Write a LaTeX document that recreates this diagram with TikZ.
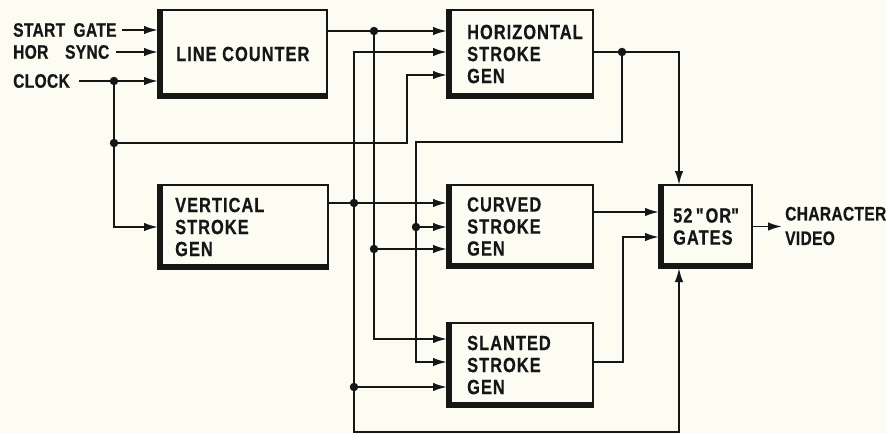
\documentclass[tikz,border=0pt]{standalone}
\usepackage{fontspec}
\setmainfont{Liberation Sans}
\newfontfamily\boxfont{Liberation Sans}[FakeStretch=0.8, LetterSpace=5, FakeBold=0.5]
\newfontfamily\labfont{Liberation Sans}[FakeStretch=0.8, LetterSpace=1.5, WordSpace=1.8, FakeBold=0.5]
\usetikzlibrary{arrows.meta}
\definecolor{paper}{RGB}{252,252,243}
\definecolor{ink}{RGB}{22,22,22}
\tikzset{
  wire/.style={draw=ink, line width=1.9pt},
  arr/.style={wire, -{Latex[length=14pt,width=8.5pt]}},
  blk/.style={draw=ink, line width=1.9pt, fill=paper, anchor=north west, inner sep=0pt, outer sep=0pt},
  thickedge/.style={draw=ink, line width=6pt},
  txt/.style={font=\boxfont\fontsize{20.5}{22}\selectfont\bfseries, align=left, inner sep=0pt, anchor=west, text=ink},
  lbl/.style={font=\labfont\fontsize{19.5}{24.5}\selectfont\bfseries, align=left, inner sep=0pt, anchor=west, text=ink},
  dot/.style={circle, fill=ink, inner sep=0pt, minimum size=8.5pt}
}
\begin{document}
\begin{tikzpicture}[x=1pt,y=-1pt]
\fill[paper] (0,0) rectangle (886,434);
\useasboundingbox (0,0) rectangle (886,434);

% boxes
\node[blk, minimum width=169pt, minimum height=88pt] (lc)  at (158,10) {};
\node[blk, minimum width=146pt, minimum height=88pt] (hsg) at (447,10) {};
\node[blk, minimum width=170pt, minimum height=84pt] (vsg) at (158,185) {};
\node[blk, minimum width=146pt, minimum height=83pt] (csg) at (447,185) {};
\node[blk, minimum width=146pt, minimum height=84pt] (ssg) at (447,323) {};
\node[blk, minimum width=93pt,  minimum height=83pt] (or)  at (659,185) {};
\foreach \b in {lc,hsg,vsg,csg,ssg,or}
  \draw[thickedge] ([xshift=2pt]\b.north west) -- ([xshift=2pt,yshift=2pt]\b.south west) -- ([yshift=2pt]\b.south east);

% box texts
\node[txt] (lct)  at ([xshift=18pt]lc.west)  {LINE COUNTER};
\node[txt] (hsgt) at ([xshift=20pt]hsg.west) {HORIZONTAL\\STROKE\\GEN};
\node[txt] (vsgt) at ([xshift=17pt]vsg.west) {VERTICAL\\STROKE\\GEN};
\node[txt] (csgt) at ([xshift=20pt]csg.west) {CURVED\\STROKE\\GEN};
\node[txt] (ssgt) at ([xshift=20pt]ssg.west) {SLANTED\\STROKE\\GEN};
\node[txt] (ort)  at ([xshift=14pt]or.west)  {52\,\textquotedbl OR\textquotedbl\\GATES};

% input labels
\node[lbl] (sg)  at (13,30) {START GATE};
\node[lbl] (hs)  at (13,52) {HOR\ \ SYNC};
\node[lbl] (clk) at (13,81) {CLOCK};
\node[lbl] (cv)  at (785,226) {CHARACTER\\VIDEO};

% coordinates
\coordinate (j1) at (114,81);
\coordinate (j2) at (114,143);
\coordinate (k1) at (407,143);
\coordinate (k1t) at (407,75);
\coordinate (jB) at (374,31);
\coordinate (jB2) at (374,249);
\coordinate (kB) at (374,339);
\coordinate (jA) at (354,203);
\coordinate (kA) at (354,52);
\coordinate (jA2) at (354,387);
\coordinate (kA2) at (354,432);
\coordinate (kA3) at (679,432);
\coordinate (jC) at (622,52);
\coordinate (kC0) at (679,52);
\coordinate (kC1) at (622,142);
\coordinate (kC2) at (416,142);
\coordinate (kC3) at (416,362);
\coordinate (jC2) at (416,227);
\coordinate (cso) at ([yshift=14.5pt]csg.east);
\coordinate (kS) at (623,362);
\coordinate (kS2) at (623,237);
\coordinate (ortip) at ([xshift=-3pt]cv.west);

% connectors
\draw[arr] ([xshift=5pt]sg.east) -- (sg.east -| lc.west);
\draw[arr] ([xshift=6pt]hs.east) -- (hs.east -| lc.west);
\draw[arr] ([xshift=9pt]clk.east) -- (clk.east -| lc.west);
\draw[arr] (j1) |- (vsg.west);
\draw[arr] (j2) -- (k1) -- (k1t) -- (k1t -| hsg.west);

\draw[arr] (lc.east |- jB) -- (jB -| hsg.west);
\draw[arr] (jB) -- (kB) -- (kB -| ssg.west);
\draw[arr] (jB2) -- (jB2 -| csg.west);

\draw[arr] (vsg.east |- jA) -- (jA -| csg.west);
\draw[arr] (jA) -- (kA) -- (kA -| hsg.west);
\draw[arr] (jA) -- (kA2) -- (kA3) -- (kA3 |- or.south);
\draw[arr] (jA2) -- (jA2 -| ssg.west);

\draw[arr] (hsg.east |- jC) -- (kC0) -- (kC0 |- or.north);
\draw[arr] (jC) -- (kC1) -- (kC2) -- (kC3) -- (kC3 -| ssg.west);
\draw[arr] (jC2) -- (jC2 -| csg.west);

\draw[arr] (cso) -- (cso -| or.west);
\draw[arr] (ssg.east |- kC3) -- (kS) -- (kS2) -- (kS2 -| or.west);
\draw[arr] (or.east) -- (or.east -| ortip);

% junction dots
\foreach \p in {j1,j2,jB,jB2,jA,jA2,jC,jC2}
  \node[dot] (d-\p) at (\p) {};
\end{tikzpicture}
\end{document}
